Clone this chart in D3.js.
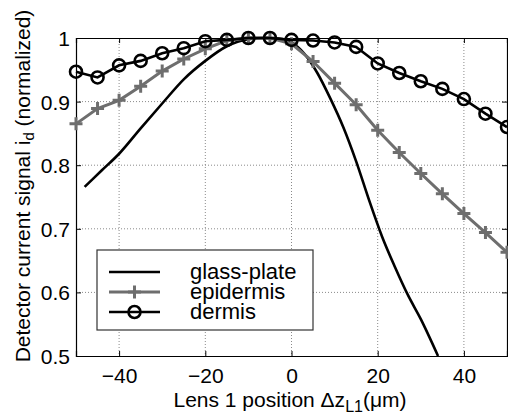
<!DOCTYPE html>
<html><head><meta charset="utf-8">
<script src="https://cdn.jsdelivr.net/npm/d3@7"></script>
<style>body{margin:0;background:#fff}svg{display:block}text{font-family:"Liberation Sans",Arial,sans-serif}</style>
</head><body><svg id="c" width="508" height="414"></svg>
<script>
const xTicks = [-40, -20, 0, 20, 40];
const yTicks = [0.5, 0.6, 0.7, 0.8, 0.9, 1];
const yTickLabels = ["0.5", "0.6", "0.7", "0.8", "0.9", "1"];
const markerX = [-50,-45,-40,-35,-30,-25,-20,-15,-10,-5,0,5,10,15,20,25,30,35,40,45,50];
const dermis = [0.947,0.938,0.957,0.964,0.976,0.984,0.995,0.997,1.0,1.0,0.997,0.996,0.993,0.986,0.960,0.945,0.932,0.920,0.904,0.881,0.860];
const epidermis = [0.865,0.889,0.902,0.924,0.948,0.967,0.983,0.996,1.0,1.0,0.991,0.963,0.929,0.895,0.855,0.820,0.787,0.755,0.724,0.694,0.663];
const glassX = [-48,-44,-40,-35,-30,-25,-20,-15,-10,-6,-3,0,3,6,9,12,15,18,21,24,27,30,34];
const glass = [0.766,0.792,0.818,0.858,0.897,0.935,0.964,0.987,0.998,1.0,0.999,0.993,0.975,0.945,0.905,0.860,0.806,0.745,0.688,0.640,0.596,0.558,0.5];
const legendLabels = ["glass-plate", "epidermis", "dermis"];

const svg = d3.select("#c");
const L = 76, R = 507, T = 38, B = 356;
const x = d3.scaleLinear().domain([-50, 50]).range([L, R]);
const y = d3.scaleLinear().domain([0.5, 1]).range([B, T]);

// grid
const grid = svg.append("g").attr("stroke", "#8a8a8a").attr("stroke-width", 1).attr("stroke-dasharray", "1,2");
xTicks.forEach(t => grid.append("line").attr("x1", x(t)).attr("x2", x(t)).attr("y1", T).attr("y2", B));
yTicks.slice(1, -1).forEach(t => grid.append("line").attr("x1", L).attr("x2", R).attr("y1", y(t)).attr("y2", y(t)));

// axes
const ax = svg.append("g").attr("transform", `translate(0,${B})`)
  .call(d3.axisBottom(x).tickValues(xTicks).tickSize(-5).tickPadding(12).tickFormat(d3.format("d")));
const ay = svg.append("g").attr("transform", `translate(${L},0)`)
  .call(d3.axisLeft(y).tickValues(yTicks).tickSize(-5).tickPadding(6).tickFormat((d, i) => yTickLabels[i]));
const axT = svg.append("g").attr("transform", `translate(0,${T})`)
  .call(d3.axisTop(x).tickValues(xTicks).tickSize(-5).tickFormat(""));
const ayR = svg.append("g").attr("transform", `translate(${R},0)`)
  .call(d3.axisRight(y).tickValues(yTicks).tickSize(-5).tickFormat(""));
[ax, ay, axT, ayR].forEach(g => {
  g.selectAll("path").attr("stroke", "#000").attr("stroke-width", 1.2);
  g.selectAll("line").attr("stroke", "#000");
  g.selectAll("text").attr("font-size", 21).attr("fill", "#000").style("font-family", '"Liberation Sans",Arial,sans-serif');
});
ay.selectAll("text").attr("dy", "0.36em");

const clip = svg.append("clipPath").attr("id", "pc").append("rect").attr("x", L - 8).attr("y", T - 8).attr("width", R - L + 16).attr("height", B - T + 8);
const plot = svg.append("g").attr("clip-path", "url(#pc)");

const line = d3.line().x(d => x(d[0])).y(d => y(d[1]));
// glass plate
plot.append("path").datum(glassX.map((v, i) => [v, glass[i]]))
  .attr("d", line.curve(d3.curveMonotoneX)).attr("fill", "none").attr("stroke", "#000").attr("stroke-width", 2.6);
const lin = d3.line().x(d => x(d[0])).y(d => y(d[1]));
// epidermis
const epC = "#6e6e6e";
plot.append("path").datum(markerX.map((v, i) => [v, epidermis[i]]))
  .attr("d", lin).attr("fill", "none").attr("stroke", epC).attr("stroke-width", 3);
const plusPath = s => `M${-s},0H${s}M0,${-s}V${s}`;
plot.selectAll(".ep").data(markerX.map((v, i) => [v, epidermis[i]])).join("path")
  .attr("transform", d => `translate(${x(d[0])},${y(d[1])})`).attr("d", plusPath(6.5))
  .attr("stroke", epC).attr("stroke-width", 3).attr("fill", "none");
// dermis
plot.append("path").datum(markerX.map((v, i) => [v, dermis[i]]))
  .attr("d", lin).attr("fill", "none").attr("stroke", "#000").attr("stroke-width", 2.6);
plot.selectAll(".de").data(markerX.map((v, i) => [v, dermis[i]])).join("circle")
  .attr("cx", d => x(d[0])).attr("cy", d => y(d[1])).attr("r", 6)
  .attr("fill", "none").attr("stroke", "#000").attr("stroke-width", 2.6);

// legend
const lg = svg.append("g");
lg.append("rect").attr("x", 97).attr("y", 250).attr("width", 216).attr("height", 80)
  .attr("fill", "#fff").attr("stroke", "#333").attr("stroke-width", 1.2);
const rows = [272, 292, 312];
lg.append("line").attr("x1", 109).attr("x2", 160).attr("y1", rows[0]).attr("y2", rows[0]).attr("stroke", "#000").attr("stroke-width", 2.6);
lg.append("line").attr("x1", 109).attr("x2", 160).attr("y1", rows[1]).attr("y2", rows[1]).attr("stroke", epC).attr("stroke-width", 3);
lg.append("path").attr("transform", `translate(134.5,${rows[1]})`).attr("d", plusPath(6.5)).attr("stroke", epC).attr("stroke-width", 3);
lg.append("line").attr("x1", 109).attr("x2", 160).attr("y1", rows[2]).attr("y2", rows[2]).attr("stroke", "#000").attr("stroke-width", 2.6);
lg.append("circle").attr("cx", 134.5).attr("cy", rows[2]).attr("r", 6).attr("fill", "none").attr("stroke", "#000").attr("stroke-width", 2.6);
legendLabels.forEach((t, i) => lg.append("text").attr("x", 190).attr("y", rows[i]).attr("dy", "0.32em")
  .attr("font-size", 22).attr("fill", "#000").text(t));

// axis labels
const xl = svg.append("text").attr("x", 290).attr("y", 407).attr("text-anchor", "middle").attr("font-size", 21).attr("fill", "#000");
xl.append("tspan").text("Lens 1 position \u0394z");
xl.append("tspan").attr("font-size", 16).attr("dy", 5).text("L1");
xl.append("tspan").attr("dy", -5).text("(\u03bcm)");
const yl = svg.append("text").attr("transform", "translate(30,186) rotate(-90)").attr("text-anchor", "middle").attr("font-size", 21).attr("fill", "#000");
yl.append("tspan").text("Detector current signal i");
yl.append("tspan").attr("font-size", 15).attr("dy", 4).text("d");
yl.append("tspan").attr("dy", -4).text(" (normalized)");
</script></body></html>
